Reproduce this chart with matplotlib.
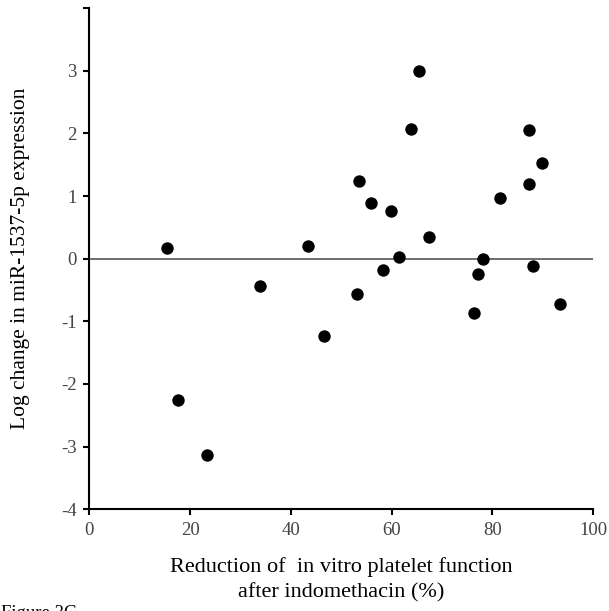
import matplotlib
matplotlib.use('Agg')
import matplotlib.pyplot as plt

# reduction of platelet function (%) vs log change in miR-1537-5p
reduction = [15.4, 17.6, 23.4, 33.9, 43.4, 46.5, 53.2, 53.5, 55.9, 58.3, 59.9, 61.4,
             63.8, 65.4, 67.5, 76.4, 77.2, 78.1, 81.6, 87.3, 87.3, 88.1, 89.9, 93.5]
log_change = [0.17, -2.26, -3.14, -0.44, 0.20, -1.23, -0.56, 1.24, 0.89, -0.18, 0.76, 0.02,
              2.07, 2.99, 0.34, -0.86, -0.25, 0.0, 0.97, 2.05, 1.19, -0.12, 1.52, -0.72]
xticks = [0, 20, 40, 60, 80, 100]
yticks = [-4, -3, -2, -1, 0, 1, 2, 3]

plt.rcParams['font.family'] = ['Liberation Serif', 'DejaVu Serif']

fig = plt.figure(figsize=(6.09, 6.11), dpi=100)
ax = fig.add_axes([0.1466, 0.1664, 0.8271, 0.8205])

ax.axhline(0, color='#555555', lw=1.2, zorder=1)
ax.scatter(reduction, log_change, s=80, color='black', zorder=3, linewidths=0)

ax.set_xlim(0, 100)
ax.set_ylim(-4, 4)
ax.set_xticks(xticks)
ax.set_yticks(yticks + [4])
ax.set_yticklabels([str(t) for t in yticks] + [''])

for s in ['top', 'right']:
    ax.spines[s].set_visible(False)
for s in ['left', 'bottom']:
    ax.spines[s].set_linewidth(1.5)
    ax.spines[s].set_color('black')
ax.tick_params(direction='out', length=4, width=1.5, colors='black',
               labelcolor='#444444', labelsize=13.5)
ax.tick_params(axis='x', pad=5)
ax.tick_params(axis='y', pad=5)

ax.set_ylabel('Log change in miR-1537-5p expression', fontsize=15.5)
ax.yaxis.set_label_coords(-0.118, 0.5)
ax.set_xlabel('Reduction of  in vitro platelet function\nafter indomethacin (%)',
              fontsize=16, linespacing=1.4)
ax.xaxis.set_label_coords(0.5, -0.095)
ax.xaxis.label.set_va('top')

fig.text(0.002, 0.010, 'Figure 3C', fontsize=13.5, va='top', ha='left')

fig.savefig('out.png', dpi=100)
